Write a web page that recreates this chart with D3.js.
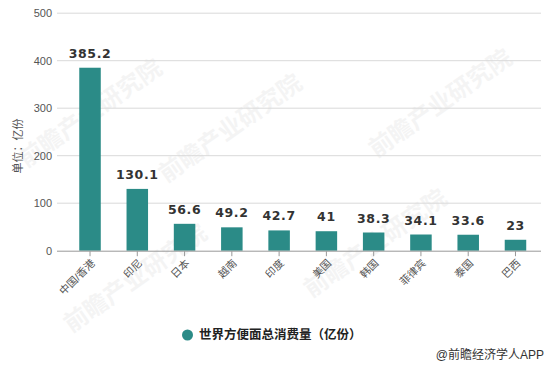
<!DOCTYPE html>
<html>
<head>
<meta charset="utf-8">
<script src="https://cdn.jsdelivr.net/npm/d3@7/dist/d3.min.js"></script>
<style>
  body { margin: 0; background: #fff; }
  svg { display: block; font-family: "Liberation Sans", "Noto Sans CJK SC", sans-serif; }
</style>
</head>
<body>
<svg id="chart" width="560" height="368"></svg>
<script>
// data
var countries = ["中国/香港", "印尼", "日本", "越南", "印度", "美国", "韩国", "菲律宾", "泰国", "巴西"];
var consumption = [385.2, 130.1, 56.6, 49.2, 42.7, 41, 38.3, 34.1, 33.6, 23];
var yTicks = [0, 100, 200, 300, 400, 500];
var seriesName = "世界方便面总消费量（亿份）";
var unitLabel = "单位：亿份";
var sourceLabel = "@前瞻经济学人APP";

var barColor = "#2b8b87";

var svg = d3.select("#chart");

// watermarks, faint
var marks = [[95, 120], [235, 135], [445, 110], [140, 285], [380, 250]];
svg.append("g").selectAll("text")
  .data(marks)
  .enter().append("text")
  .attr("transform", function(d) { return "translate(" + d[0] + "," + d[1] + ") rotate(-35)"; })
  .attr("text-anchor", "middle")
  .style("font-size", "24px")
  .style("font-weight", "bold")
  .style("fill", "#000")
  .style("opacity", 0.04)
  .text("前瞻产业研究院");

var x = d3.scaleBand()
  .domain(countries)
  .range([66.5, 539])
  .paddingInner(0.545)
  .paddingOuter(0.27);

var y = d3.scaleLinear()
  .domain([0, 500])
  .range([250.7, 13.2]);

// grid
svg.append("g").selectAll("line")
  .data(yTicks.slice(1))
  .enter().append("line")
  .attr("x1", 57).attr("x2", 541)
  .attr("y1", function(d) { return y(d); })
  .attr("y2", function(d) { return y(d); })
  .attr("stroke", "#d9d9d9")
  .attr("stroke-width", 1);

// y labels
svg.append("g").selectAll("text")
  .data(yTicks)
  .enter().append("text")
  .attr("x", 52)
  .attr("y", function(d) { return y(d); })
  .attr("dy", "0.35em")
  .attr("text-anchor", "end")
  .style("font-size", "11px")
  .style("fill", "#555")
  .text(function(d) { return d; });

svg.append("text")
  .attr("transform", "translate(22,146) rotate(-90)")
  .attr("text-anchor", "middle")
  .style("font-size", "11px")
  .style("fill", "#555")
  .text(unitLabel);

// bars
svg.append("g").selectAll("rect")
  .data(consumption)
  .enter().append("rect")
  .attr("x", function(d, i) { return x(countries[i]); })
  .attr("width", x.bandwidth())
  .attr("y", function(d) { return y(d); })
  .attr("height", function(d) { return y(0) - y(d); })
  .attr("fill", barColor);

// value labels
svg.append("g").selectAll("text")
  .data(consumption)
  .enter().append("text")
  .attr("x", function(d, i) { return x(countries[i]) + x.bandwidth() / 2; })
  .attr("y", function(d) { return y(d) - 10; })
  .attr("text-anchor", "middle")
  .style("font-family", "'DejaVu Sans', sans-serif")
  .style("font-size", "12.5px")
  .style("font-weight", "bold")
  .style("letter-spacing", "0.6px")
  .style("fill", "#333")
  .text(function(d) { return d; });

// x axis
svg.append("line")
  .attr("x1", 57).attr("x2", 541)
  .attr("y1", y(0) + 0.5).attr("y2", y(0) + 0.5)
  .attr("stroke", "#999");

var xt = svg.append("g").selectAll("g")
  .data(countries)
  .enter().append("g")
  .attr("transform", function(d) { return "translate(" + (x(d) + x.bandwidth() / 2) + "," + (y(0) + 0.5) + ")"; });

xt.append("line")
  .attr("y2", 5)
  .attr("stroke", "#999");

xt.append("text")
  .attr("transform", "translate(3,10) rotate(-45)")
  .attr("text-anchor", "end")
  .attr("dy", "0.35em")
  .style("font-size", "10.5px")
  .style("fill", "#555")
  .text(function(d) { return d; });

// legend
svg.append("circle")
  .attr("cx", 187.5).attr("cy", 335)
  .attr("r", 5.5)
  .attr("fill", barColor);

svg.append("text")
  .attr("x", 199).attr("y", 335)
  .attr("dy", "0.35em")
  .style("font-size", "12.5px")
  .style("font-weight", "bold")
  .style("fill", "#222")
  .text(seriesName);

svg.append("text")
  .attr("x", 544).attr("y", 355)
  .attr("dy", "0.35em")
  .attr("text-anchor", "end")
  .style("font-size", "12px")
  .style("fill", "#333")
  .text(sourceLabel);
</script>
</body>
</html>
